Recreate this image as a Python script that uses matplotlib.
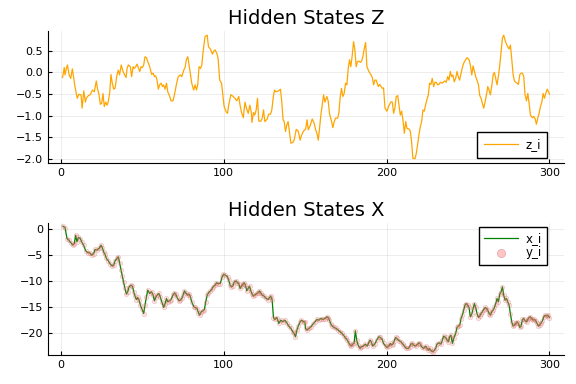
import matplotlib
matplotlib.use("Agg")
import matplotlib.pyplot as plt

# hidden state z
z_t = [1, 2, 2.5, 3.3, 4, 5, 6, 7, 8, 8.6, 10, 11, 12.3, 13, 14, 15, 15.6, 16.8, 18, 19.3,
       20.5, 21.7, 22.5, 23.4, 24.2, 25, 25.8, 26.6, 27.5, 28.3, 29, 30, 30.7, 31.5, 32.4, 33.2,
       34.4, 35.2, 36, 37, 38, 39, 40, 40.6, 41.4, 42.6, 43.4, 44.3, 45, 45.9, 46.7, 47.5, 48.4,
       49.2, 50, 50.8, 51.6, 52.5, 53.3, 54.5, 55.7, 56.6, 57.4, 58.2, 59, 59.8, 60.6, 61.5, 62.3,
       63, 63.9, 64.8, 65.6, 66.8, 67.6, 68.8, 69.7, 70.9, 72, 73.4, 74.2, 75.4, 76.2, 77, 77.9,
       79, 80.3, 81.5, 82.4, 83.2, 84, 84.8, 85.7, 86.5, 87.3, 88.5, 89.8, 90.6, 91.8, 93, 93.8,
       94.7, 95.9, 96.5, 97.5, 98.6, 99.4, 100.2, 101.4, 102.3, 103, 104.3, 105.5, 106.8, 108,
       109.2, 110, 110.9, 112, 113, 113.9, 115, 116, 116.9, 117.3, 118.2, 119, 119.9, 120.7,
       121.5, 122.7, 123.6, 124.4, 125.2, 126.7, 127.5, 128.7, 129.5, 130.3, 131.1, 132, 133.6,
       134.8, 135.6, 136.4, 137.1, 137.9, 138.7, 139.5, 140.3, 141.2, 142.4, 143.2, 144.5, 145.7,
       146.9, 147.8, 149, 150.3, 151.1, 151.9, 153.1, 154.3, 155.5, 156.4, 157.2, 158, 158.8,
       159.6, 160.4, 161.3, 162.1, 163.3, 164.1, 164.9, 166.2, 167, 167.8, 168.6, 169.9, 170.7,
       171.5, 172.3, 173.1, 173.9, 174.8, 175.6, 176.4, 177.2, 178, 178.9, 179.7, 180.5, 181.3,
       182.1, 183, 183.8, 184.6, 185.4, 186.3, 187.1, 187.9, 189.1, 190.4, 191.2, 192, 192.8,
       193.6, 194.9, 195.7, 197.3, 198.1, 199, 200.2, 201.4, 202.7, 203.5, 204.3, 205.1, 205.9,
       206.8, 207.6, 208.4, 209.2, 210, 210.9, 211.7, 212.5, 213.7, 214.5, 215.3, 216.1, 217.4,
       218.2, 219, 219.8, 220.7, 221.5, 222.3, 223.1, 223.9, 224.7, 225.6, 226.4, 227.2, 228,
       228.9, 229.7, 230.5, 231.3, 232.1, 233, 234.2, 235, 235.8, 236.6, 237.5, 238.3, 239.1,
       239.9, 240.7, 241.5, 242.4, 243.2, 244, 244.8, 245.7, 246.5, 247.3, 248.5, 249.4, 250.6,
       251.4, 252.3, 253.1, 253.9, 254.7, 255.5, 256.4, 257.2, 258, 258.8, 259.6, 260.5, 261.3,
       262.1, 262.9, 263.7, 264.5, 265.4, 266.2, 267, 267.8, 268.6, 269.5, 270.3, 271.1, 271.9,
       272.7, 273.6, 274.4, 275.2, 276, 276.8, 277.7, 278.5, 279.3, 280.1, 280.9, 281.8, 282.6,
       283.4, 284.2, 285, 285.9, 286.7, 287.5, 288.3, 289.5, 290.4, 291.2, 292, 292.8, 293.6,
       294.5, 295.3, 296.1, 296.9, 297.7, 298.6, 299.4, 300]
z_vals = [-0.12, 0.11, -0.06, 0.09, 0.17, -0.06, -0.14, 0.08, -0.18, -0.33, -0.6, -0.51, -0.52,
          -0.83, -0.43, -0.69, -0.6, -0.54, -0.52, -0.41, -0.45, -0.2, -0.39, -0.52, -0.74, -0.72,
          -0.49, -0.79, -0.69, -0.76, -0.69, -0.45, -0.05, -0.25, -0.39, -0.37, -0.06, 0.05, -0.06,
          0.17, 0.03, -0.05, -0.12, 0.09, 0.17, 0.13, -0.1, 0.13, 0.09, 0.13, 0.19, 0.11, 0.02,
          0.13, 0.11, 0.17, 0.36, 0.34, 0.25, 0.13, -0.05, -0.02, -0.1, -0.08, -0.18, -0.39, -0.29,
          -0.25, -0.33, -0.29, -0.39, -0.25, -0.45, -0.56, -0.66, -0.66, -0.52, -0.28, -0.1, -0.06,
          -0.1, 0.05, 0.11, 0.29, 0.36, 0.09, -0.25, -0.41, -0.29, -0.41, -0.29, 0.13, 0.09, 0.17,
          0.48, 0.83, 0.86, 0.59, 0.54, 0.42, 0.49, 0.52, 0.42, 0.32, -0.18, -0.25, -0.52, -0.79,
          -0.91, -0.95, -0.76, -0.52, -0.55, -0.6, -0.66, -0.56, -0.76, -0.93, -1.05, -0.69, -0.83,
          -0.95, -0.76, -0.93, -1.16, -0.93, -0.99, -0.87, -0.6, -1.13, -1.13, -1.06, -0.87, -1.14,
          -1.08, -0.97, -0.97, -0.87, -0.6, -0.41, -0.45, -0.43, -0.39, -0.68, -1.1, -1.14, -1.37,
          -1.22, -1.14, -1.37, -1.64, -1.62, -1.57, -1.32, -1.36, -1.57, -1.45, -1.36, -1.31, -1.1,
          -1.33, -1.23, -1.08, -1.18, -1.33, -1.41, -1.57, -1.3, -0.99, -0.76, -0.52, -0.69, -0.56,
          -0.66, -0.95, -1.14, -1.28, -1.14, -1.06, -1.06, -0.93, -0.56, -0.37, -0.56, -0.49, -0.25,
          -0.29, 0.09, 0.29, 0.13, 0.4, 0.71, 0.52, 0.13, 0.25, 0.26, 0.23, 0.26, 0.36, 0.56, 0.69,
          0.13, 0.02, -0.06, -0.12, -0.29, -0.18, -0.18, -0.33, -0.28, -0.37, -0.36, -0.83, -0.9,
          -0.77, -0.68, -0.69, -0.95, -0.82, -0.56, -0.54, -0.76, -0.99, -0.9, -1.1, -1.41, -1.14,
          -1.3, -1.31, -1.36, -1.6, -1.99, -2.0, -1.88, -1.68, -1.45, -1.26, -1.14, -0.87, -0.9,
          -0.76, -0.64, -0.52, -0.25, -0.28, -0.14, -0.33, -0.23, -0.23, -0.29, -0.28, -0.23, -0.25,
          -0.22, -0.2, -0.23, -0.1, -0.18, 0.02, -0.1, -0.06, -0.22, -0.14, 0.02, -0.1, -0.18,
          -0.02, 0.11, 0.21, 0.29, 0.34, 0.29, 0.17, -0.06, 0.15, 0.02, -0.1, -0.18, -0.29, -0.54,
          -0.6, -0.72, -0.83, -0.68, -0.52, -0.33, -0.41, -0.52, -0.33, -0.06, 0.0, -0.14, -0.29,
          -0.1, 0.17, 0.48, 0.79, 0.86, 0.75, 0.65, 0.59, 0.54, 0.63, 0.32, -0.06, -0.2, -0.23,
          -0.25, -0.28, -0.05, -0.02, -0.02, -0.1, -0.52, -0.66, -0.49, -0.72, -0.99, -1.05, -1.02,
          -1.08, -1.2, -1.06, -0.95, -0.79, -0.69, -0.49, -0.6, -0.49, -0.39, -0.45, -0.51]

# hidden state x (line) and observations y (markers)
x_t = [1.2, 2.5, 3.7, 4.9, 6.1, 7.4, 8.2, 9, 9.8, 10.7, 11.9, 12.7, 13.9, 15.2, 16.4, 17.6, 18.9,
       20.1, 20.9, 22.1, 23.4, 24.6, 25.4, 26.2, 27, 27.9, 29.1, 30.3, 31.6, 32.4, 33.2, 34.4,
       35.2, 36.1, 36.9, 37.7, 38.5, 39.3, 40.2, 41, 41.8, 43, 43.9, 44.7, 45.5, 46.3, 47.1, 48,
       48.8, 49.6, 50.8, 51.6, 52.5, 53.3, 54.5, 55.7, 56.6, 57.4, 58.2, 59, 60.2, 61.1, 61.9,
       63.1, 63.9, 64.8, 65.6, 66.8, 67.6, 68.8, 69.7, 70.5, 71.3, 72.5, 73.4, 74.2, 75, 75.8,
       76.6, 77.9, 78.7, 79.5, 80.3, 81.6, 82.4, 83.6, 84.4, 85.2, 86.1, 87.3, 88.1, 88.9, 89.8,
       90.6, 91.8, 92.6, 93.4, 94.7, 95.5, 96.3, 97.8, 99, 99.8, 101, 102.3, 103, 103.9, 104.7,
       105.5, 106.4, 107.6, 108.4, 109.2, 110, 110.9, 111.7, 112.5, 113.3, 114.1, 114.9, 115.8,
       116.6, 117.4, 118.2, 119, 120.3, 121.1, 121.9, 122.7, 123.6, 124.8, 126, 127.3, 128.1,
       128.9, 129.7, 130.5, 131.3, 132.6, 133.8, 135, 136.3, 137.5, 138.7, 139.9, 141.2, 142.4,
       143.2, 144, 144.9, 145.7, 146.9, 147.7, 149, 149.8, 150.2, 151, 152.3, 153.5, 154.7, 156,
       157.2, 158.4, 159.6, 160.9, 162.1, 163.3, 164.1, 164.9, 165.8, 166.6, 167.8, 169, 170.3,
       171.5, 172.7, 173.9, 175.1, 175.9, 176.7, 177.6, 178.4, 179.2, 180, 180.8, 181.6, 182.5,
       183.7, 184.5, 185.7, 186.9, 188.2, 189, 189.8, 190.6, 191.4, 192.7, 193.9, 195.1, 196.1,
       197.3, 198.1, 199.4, 200.2, 201.4, 202.2, 203, 203.9, 204.7, 205.5, 206.3, 207.6, 208.8,
       210, 210.9, 212.1, 213.3, 214.1, 214.9, 215.8, 216.6, 217.8, 219, 219.8, 220.7, 221.5,
       222.7, 224, 224.8, 225.6, 226.4, 227.3, 228.5, 229.3, 230.1, 230.9, 232.2, 233.4, 234.2,
       235, 236.3, 237.1, 237.9, 238.7, 239.5, 240.4, 241.2, 242.4, 243.2, 244, 244.9, 245.7,
       246.5, 247.3, 248.1, 248.9, 249.8, 250.6, 251.4, 252.3, 253.1, 253.9, 254.7, 255.5, 256.4,
       257.2, 258, 258.8, 259.6, 260.5, 261.3, 262.1, 262.9, 263.7, 264.5, 265.4, 266.2, 267,
       267.8, 268.6, 269.5, 270.3, 271.1, 271.9, 272.7, 273.6, 274.4, 275.2, 276, 276.8, 277.7,
       278.5, 279.3, 280.1, 280.9, 281.8, 282.6, 283.4, 284.2, 285, 285.9, 286.7, 287.5, 288.3,
       289.1, 290, 290.8, 291.6, 292.4, 293.2, 294, 294.9, 295.7, 296.5, 297.3, 298.2, 299, 300]
x_vals = [0.63, 0.38, -1.74, -2.06, -2.57, -3.02, -2.7, -1.1, -2.38, -1.54, -1.74, -2.38, -3.02,
          -4.11, -4.43, -4.49, -4.94, -4.62, -3.85, -3.98, -3.65, -3.02, -3.47, -4.3, -4.75, -5.58,
          -6.03, -6.67, -7.05, -6.86, -6.03, -5.58, -5.26, -6.54, -7.83, -8.98, -10.07, -11.35,
          -12.44, -11.99, -11.03, -10.71, -10.9, -11.99, -12.83, -13.47, -13.08, -13.59, -14.56,
          -15.2, -16.16, -14.56, -12.95, -11.67, -12.31, -11.99, -12.63, -13.72, -13.08, -12.63,
          -12.31, -13.08, -13.91, -15.0, -14.36, -13.27, -13.91, -13.72, -13.47, -12.63, -12.18,
          -12.44, -13.08, -13.72, -13.59, -13.27, -12.63, -11.8, -12.18, -12.63, -12.44, -12.95,
          -13.91, -14.87, -15.0, -15.2, -16.03, -16.48, -15.84, -15.65, -15.4, -13.91, -12.63,
          -12.18, -11.8, -11.54, -11.03, -10.71, -10.26, -10.39, -10.39, -9.1, -8.6, -8.79, -9.1,
          -9.75, -10.71, -11.03, -10.9, -10.07, -9.88, -10.26, -10.39, -11.35, -10.9, -10.52,
          -10.26, -10.71, -11.8, -11.35, -10.9, -11.8, -12.44, -12.83, -12.63, -12.31, -12.18,
          -11.8, -12.18, -12.63, -12.83, -13.27, -13.47, -13.08, -12.83, -13.59, -16.93, -17.31,
          -16.93, -18.08, -17.44, -17.76, -17.44, -17.95, -18.59, -19.04, -19.68, -20.0, -20.64,
          -19.36, -18.59, -17.76, -17.44, -17.76, -17.76, -19.04, -19.36, -19.04, -18.72, -18.21,
          -17.76, -17.31, -17.44, -17.12, -17.31, -17.12, -16.8, -16.93, -17.44, -18.21, -18.59,
          -18.85, -19.04, -19.36, -19.68, -20.0, -20.51, -20.96, -21.28, -21.79, -22.24, -22.43,
          -22.05, -21.92, -19.49, -21.28, -22.24, -22.88, -22.56, -22.43, -22.05, -22.43, -21.79,
          -21.28, -21.6, -22.43, -22.05, -21.28, -20.64, -20.77, -21.16, -21.92, -22.43, -22.69,
          -22.43, -21.92, -22.24, -22.05, -21.41, -20.77, -20.96, -21.41, -21.6, -22.05, -22.43,
          -22.88, -22.88, -22.56, -22.05, -21.92, -22.24, -22.43, -22.05, -21.79, -22.05, -22.56,
          -22.88, -22.43, -22.88, -23.21, -22.88, -23.34, -23.53, -23.21, -22.88, -22.05, -21.79,
          -22.05, -21.28, -20.51, -20.77, -21.28, -21.6, -20.64, -20.32, -21.92, -20.96, -20.0,
          -18.85, -18.59, -18.4, -17.12, -16.48, -15.52, -14.56, -14.24, -14.56, -15.0, -16.8,
          -16.29, -15.2, -14.24, -15.0, -16.16, -16.93, -16.67, -16.16, -15.84, -15.4, -15.0,
          -15.2, -15.52, -16.16, -16.48, -15.84, -15.52, -15.0, -14.24, -13.27, -13.91, -12.44,
          -11.99, -11.03, -12.63, -13.59, -13.27, -13.91, -14.56, -16.16, -17.76, -18.59, -18.4,
          -18.08, -17.76, -18.08, -18.85, -18.59, -17.31, -17.12, -17.56, -17.76, -17.31, -16.93,
          -16.8, -17.12, -17.44, -17.31, -17.56, -18.08, -18.59, -18.4, -17.95, -17.56, -16.8,
          -16.48, -16.67, -16.48, -16.93]
# observations sit on top of the state at this scale
y_vals = list(x_vals)

z_ticks = [-2.0, -1.5, -1.0, -0.5, 0.0, 0.5]
x_ticks = [-20, -15, -10, -5, 0]
t_ticks = [0, 100, 200, 300]

plt.rcParams['font.family'] = 'DejaVu Sans'

fig = plt.figure(figsize=(5.76, 3.84), dpi=100)
ax1 = fig.add_axes([0.0833, 0.5747, 0.896, 0.3453])
ax2 = fig.add_axes([0.0833, 0.0747, 0.896, 0.3453])

ax1.plot(z_t, z_vals, color='#FFA500', lw=0.9, label='z_i')
ax1.set_ylim(-2.106, 0.963)
ax1.set_yticks(z_ticks)
ax1.set_yticklabels(['{:.1f}'.format(v).replace('-', '\u2212') for v in z_ticks])
ax1.legend(loc='lower right', bbox_to_anchor=(0.967, 0.04), borderaxespad=0,
           fancybox=False, edgecolor='black', framealpha=1, fontsize=8.5,
           handlelength=2.9, handletextpad=0.6, borderpad=0.55)
ax1.set_title('Hidden States Z', fontsize=14, pad=5)

ax2.plot(x_t, x_vals, color='#008000', lw=0.9, label='x_i', zorder=2)
ax2.scatter(x_t, y_vals, s=11, color='#FF8080', alpha=0.25, edgecolors='#B04040',
            linewidths=0.4, label='y_i', zorder=3)
ax2.set_ylim(-24.2, 1.3)
ax2.set_yticks(x_ticks)
ax2.set_yticklabels([str(v).replace('-', '\u2212') for v in x_ticks])
leg = ax2.legend(loc='upper right', bbox_to_anchor=(0.967, 0.968), borderaxespad=0,
                 fancybox=False, edgecolor='black', framealpha=1, fontsize=8.5,
                 handlelength=2.9, handletextpad=0.6, markerscale=1.8,
                 labelspacing=0.1, borderpad=0.45)
leg.legend_handles[1].set_alpha(0.45)
ax2.set_title('Hidden States X', fontsize=14, pad=5)

for ax in (ax1, ax2):
    ax.set_xlim(-7.97, 308.97)
    ax.set_xticks(t_ticks)
    ax.grid(True, color='black', alpha=0.1, lw=0.5)
    ax.spines['top'].set_visible(False)
    ax.spines['right'].set_visible(False)
    ax.tick_params(direction='in', length=3, width=0.8, labelsize=8, colors='black')
    ax.set_axisbelow(True)

fig.savefig('out.png', dpi=100)
